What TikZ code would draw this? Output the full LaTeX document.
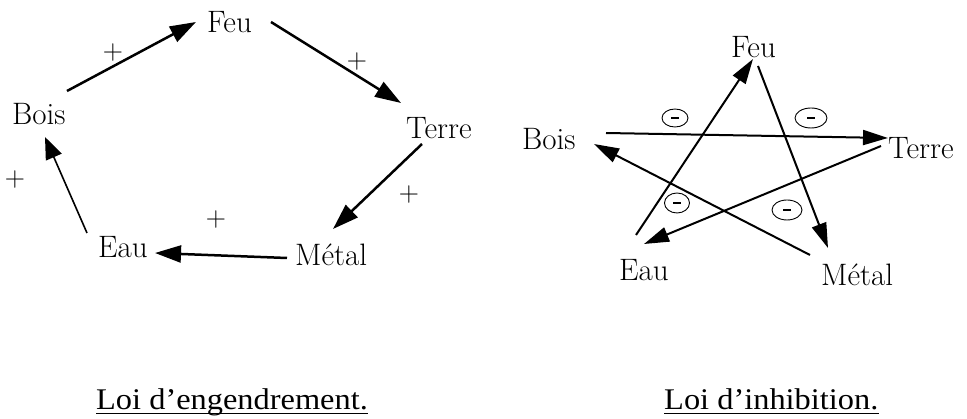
\documentclass[tikz,border=0pt]{standalone}
\usepackage{fontspec}
\newfontfamily\capfont{Liberation Serif}
\usetikzlibrary{arrows.meta,shapes.geometric}
\begin{document}
\begin{tikzpicture}[x=1pt,y=-1pt,
  lab/.style={anchor=base west, inner sep=0pt, font=\fontsize{31}{34}\selectfont},
  pl/.style={inner sep=0pt, font=\fontsize{28}{30}\selectfont},
  arrthick/.style={line width=2.5pt, -{Triangle[length=26pt,width=17pt]}},
  arrthin/.style={line width=1.6pt, -{Triangle[length=22pt,width=17pt]}},
  arrstar/.style={line width=2pt, -{Triangle[length=25pt,width=15pt]}},
  cminus/.style={draw, ellipse, line width=0.9pt, inner sep=0pt, minimum height=18pt},
  captxt/.style={anchor=base west, inner sep=0pt, font=\capfont\fontsize{30}{34}\selectfont},
  uline/.style={line width=1.6pt}]
\useasboundingbox (0,0) rectangle (967,419);
\fill[white] (0,0) rectangle (967,419);

% ---- Left: Loi d'engendrement ----
\node[lab] (lFeu)   at (207,33)  {Feu};
\node[lab] (lBois)  at (12,125)  {Bois};
\node[lab] (lTerre) at (406,139) {Terre};
\node[lab] (lEau)   at (98,258)  {Eau};
\node[lab] (lMetal) at (295,266) {Métal};

\coordinate (lBois-o)  at (67,91);   \coordinate (lFeu-i)   at (196,22);
\coordinate (lFeu-o)   at (271,22);  \coordinate (lTerre-i) at (401,103);
\coordinate (lTerre-o) at (422,144); \coordinate (lMetal-i) at (333,229);
\coordinate (lMetal-o) at (287,258); \coordinate (lEau-i)   at (155,253);
\coordinate (lEau-o)   at (87,233);  \coordinate (lBois-i)  at (45,137);

\draw[arrthick] (lBois-o) -- (lFeu-i);
\draw[arrthick] (lFeu-o) -- (lTerre-i);
\draw[arrthick] (lTerre-o) -- (lMetal-i);
\draw[arrthick] (lMetal-o) -- (lEau-i);
\draw[arrthin]  (lEau-o) -- (lBois-i);

\node[pl] (p1) at (113,53)  {+};
\node[pl] (p2) at (357,62)  {+};
\node[pl] (p3) at (409,195) {+};
\node[pl] (p4) at (216,220) {+};
\node[pl] (p5) at (15,180)  {+};

% ---- Right: Loi d'inhibition ----
\node[lab] (rFeu)   at (731,58)  {Feu};
\node[lab] (rBois)  at (522,150) {Bois};
\node[lab] (rTerre) at (888,159) {Terre};
\node[lab] (rEau)   at (619,281) {Eau};
\node[lab] (rMetal) at (821,286) {Métal};

\coordinate (rBois-o)  at (606,133); \coordinate (rTerre-i) at (888,138);
\coordinate (rFeu-o)   at (758,66);  \coordinate (rMetal-i) at (828,248);
\coordinate (rTerre-o) at (881,146); \coordinate (rEau-i)   at (644,244);
\coordinate (rMetal-o) at (810,255); \coordinate (rBois-i)  at (594,144);
\coordinate (rEau-o)   at (636,235); \coordinate (rFeu-i)   at (753,59);

\draw[arrstar] (rBois-o) -- (rTerre-i);
\draw[arrstar] (rFeu-o) -- (rMetal-i);
\draw[arrstar] (rTerre-o) -- (rEau-i);
\draw[arrstar] (rMetal-o) -- (rBois-i);
\draw[arrstar] (rEau-o) -- (rFeu-i);

\node[cminus, minimum width=26pt] (m1) at (675,118) {\rule{8pt}{2pt}};
\node[cminus, minimum width=32pt, minimum height=20pt] (m2) at (811,118) {\rule{8pt}{2pt}};
\node[cminus, minimum width=25pt, minimum height=20pt] (m3) at (677,203) {\rule{8pt}{2pt}};
\node[cminus, minimum width=30pt, minimum height=20pt] (m4) at (787,210) {\rule{8pt}{2pt}};

% ---- Captions ----
\node[captxt] (capL) at (96,410)  {\scalebox{1.08}[1]{Loi d’engendrement.}};
\node[captxt] (capR) at (664,410) {\scalebox{1.08}[1]{Loi d’inhibition.}};
\draw[uline] ([yshift=-3.5pt]capL.base west) -- ([yshift=-3.5pt]capL.base east);
\draw[uline] ([yshift=-3.5pt]capR.base west) -- ([yshift=-3.5pt]capR.base east);
\end{tikzpicture}
\end{document}
